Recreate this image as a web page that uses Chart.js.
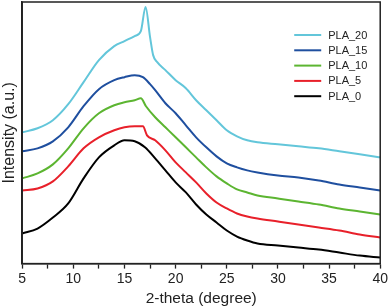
<!DOCTYPE html>
<html>
<head>
<meta charset="utf-8">
<script src="https://cdn.jsdelivr.net/npm/chart.js@4.4.0/dist/chart.umd.min.js"></script>
<style>
  body { margin: 0; background: #fff; }
  #wrap { width: 390px; height: 308px; }
</style>
</head>
<body>
<div id="wrap"><canvas id="xrd"></canvas></div>
<script>
// 2-theta positions and intensities (a.u.), one pair per sample
const theta_PLA0 = [5, 6.5, 8, 9.5, 11, 12.5, 14, 15, 16, 17, 18, 19, 20, 21, 22, 23, 24, 25, 26, 27, 28, 30, 32, 34, 36, 38, 40];
const int_PLA0   = [30, 35, 46, 60, 85, 106, 118, 123, 122, 116, 105, 93, 81, 71, 59, 49, 41, 33, 27, 23, 20, 18, 16, 14, 11, 8, 6];

const theta_PLA5 = [5, 6.5, 8, 9.5, 11, 12.5, 14, 15, 16, 16.8, 17.2, 18, 19, 20, 21, 22, 23, 24, 25, 26, 27, 28, 30, 32, 34, 36, 38, 40];
const int_PLA5   = [73, 75, 82, 97, 115, 126, 133, 136, 137, 137, 128, 123, 113, 101, 91, 81, 70, 61, 55, 50, 47, 45, 42, 39, 36, 33, 29, 26];

const theta_PLA10 = [5, 6.5, 8, 9.5, 11, 12.5, 14, 15, 16, 16.6, 17.1, 18, 19, 20, 21, 22, 23, 24, 25, 26, 27, 28, 30, 32, 34, 36, 38, 40];
const int_PLA10   = [85, 90, 99, 115, 135, 150, 158, 161, 163, 165, 157, 146, 136, 126, 116, 106, 96, 87, 80, 74, 71, 68, 65, 62, 59, 55, 52, 49];

const theta_PLA15 = [5, 6.5, 8, 9.5, 11, 12.5, 14, 15, 16, 16.8, 17.5, 18, 19, 20, 21, 22, 23, 24, 25, 26, 27, 28, 30, 32, 34, 36, 38, 40];
const int_PLA15   = [112, 115, 122, 136, 157, 174, 183, 186, 188, 186, 179, 173, 160, 150, 138, 126, 116, 107, 100, 96, 93, 91, 88, 86, 83, 79, 76, 73];

const theta_PLA20 = [5, 6.5, 8, 9.5, 11, 12.5, 14, 15, 16, 16.6, 17.06, 17.5, 17.8, 18.2, 19, 20, 21, 22, 23, 24, 25, 26, 27, 28, 30, 32, 34, 36, 38, 40];
const int_PLA20   = [131, 135, 143, 159, 181, 203, 217, 222, 227, 232, 256, 226, 208, 201, 193, 183, 175, 163, 153, 143, 133, 127, 123, 121, 119, 117, 115, 112, 109, 106];

const sampleNames = ['PLA_0', 'PLA_5', 'PLA_10', 'PLA_15', 'PLA_20'];
const xTicks = [5, 10, 15, 20, 25, 30, 35, 40];

const allTheta = [theta_PLA0, theta_PLA5, theta_PLA10, theta_PLA15, theta_PLA20];
const allInt = [int_PLA0, int_PLA5, int_PLA10, int_PLA15, int_PLA20];
const colors = ['#000000', '#e8202a', '#5cb531', '#1f4f9f', '#63c6da'];

const datasets = sampleNames.map((name, i) => ({
  label: name,
  data: allTheta[i].map((t, k) => ({ x: t, y: allInt[i][k] })),
  borderColor: colors[i],
  borderWidth: 2,
  pointRadius: 0,
  cubicInterpolationMode: 'monotone',
  fill: false
}));

// box round the plot area
const frame = {
  id: 'frame',
  afterDraw(chart) {
    const { ctx, chartArea: a } = chart;
    ctx.save();
    ctx.strokeStyle = '#222';
    ctx.lineWidth = 1.5;
    ctx.strokeRect(a.left, a.top, a.right - a.left, a.bottom - a.top);
    ctx.restore();
  }
};

// legend inside the top right corner, top entry = last sample
const insideLegend = {
  id: 'insideLegend',
  afterDraw(chart) {
    const { ctx, chartArea: a } = chart;
    const ds = chart.data.datasets.slice().reverse();
    const x0 = a.right - 86;
    let y = a.top + 33;
    ctx.save();
    ctx.font = '11px "Liberation Sans", Arial, sans-serif';
    ctx.textBaseline = 'middle';
    ds.forEach(d => {
      ctx.strokeStyle = d.borderColor;
      ctx.lineWidth = 2;
      ctx.beginPath();
      ctx.moveTo(x0, y);
      ctx.lineTo(x0 + 27, y);
      ctx.stroke();
      ctx.fillStyle = '#222';
      ctx.fillText(d.label, x0 + 34, y + 0.5);
      y += 15.3;
    });
    ctx.restore();
  }
};

new Chart(document.getElementById('xrd'), {
  type: 'line',
  data: { datasets: datasets },
  options: {
    responsive: true,
    maintainAspectRatio: false,
    animation: false,
    layout: { padding: { top: 2, right: 3, bottom: 0, left: 0 } },
    plugins: { legend: { display: false }, tooltip: { enabled: false } },
    scales: {
      x: {
        type: 'linear',
        min: 5,
        max: 40,
        grid: { display: true, drawOnChartArea: false, tickLength: 5, tickColor: '#222', tickWidth: 1.3 },
        border: { display: true, color: '#222', width: 1.5 },
        ticks: {
          stepSize: 2.5,
          autoSkip: false,
          maxRotation: 0,
          padding: 2,
          color: '#222',
          font: { family: '"Liberation Sans", Arial, sans-serif', size: 14 },
          callback: v => (xTicks.includes(v) ? String(v) : '')
        },
        title: {
          display: true,
          text: '2-theta (degree)',
          color: '#222',
          padding: { top: 0, bottom: 0 },
          font: { family: '"Liberation Sans", Arial, sans-serif', size: 15.5 }
        }
      },
      y: {
        min: 0,
        max: 261,
        grid: { display: false, drawTicks: false },
        border: { display: true, color: '#222', width: 1.5 },
        ticks: { display: false },
        title: {
          display: true,
          text: 'Intensity (a.u.)',
          color: '#222',
          padding: { top: 0, bottom: 3 },
          font: { family: '"Liberation Sans", Arial, sans-serif', size: 16 }
        }
      }
    }
  },
  plugins: [frame, insideLegend]
});
</script>
</body>
</html>
